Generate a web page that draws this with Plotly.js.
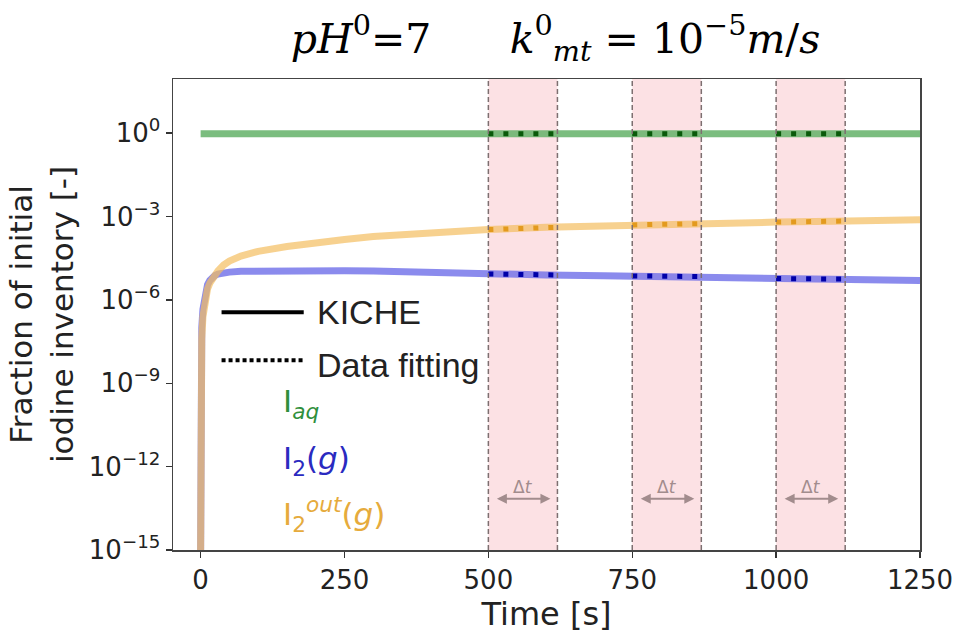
<!DOCTYPE html>
<html>
<head>
<meta charset="utf-8">
<script src="https://cdn.plot.ly/plotly-3.0.1.min.js"></script>
<style>html,body{margin:0;padding:0;background:#fff;}#chart{width:955px;height:636px;}</style>
</head>
<body>
<div id="chart"></div>
<script>
// KICHE simulation curves
const timeKiche = [0, 0.5, 1, 2, 4, 6, 8, 12, 16, 20, 25, 30, 40, 50, 70, 100, 150, 200, 250, 300, 400, 500, 600, 700, 800, 900, 1000, 1100, 1200, 1250];
const iaqKiche  = [0.95, 0.95, 0.95, 0.95, 0.95, 0.95, 0.95, 0.95, 0.95, 0.95, 0.95, 0.95, 0.95, 0.95, 0.95, 0.95, 0.95, 0.95, 0.95, 0.95, 0.95, 0.95, 0.95, 0.95, 0.95, 0.95, 0.95, 0.95, 0.95, 0.95];
const i2gKiche  = [1e-15, 3.2e-10, 1e-8, 1e-7, 4.5e-7, 1e-6, 1.8e-6, 3.5e-6, 5.0e-6, 6.3e-6, 7.6e-6, 8.5e-6, 9.5e-6, 1.0e-5, 1.07e-5, 1.1e-5, 1.12e-5, 1.12e-5, 1.12e-5, 1.1e-5, 9.5e-6, 8.5e-6, 7.9e-6, 7.4e-6, 6.9e-6, 6.5e-6, 5.9e-6, 5.6e-6, 5.2e-6, 5.0e-6];
const i2outKiche = [1e-15, 1e-10, 3.2e-9, 4.0e-8, 2.5e-7, 6.3e-7, 1.1e-6, 2.5e-6, 4.0e-6, 5.6e-6, 7.9e-6, 1.1e-5, 1.8e-5, 2.5e-5, 3.8e-5, 5.6e-5, 8.3e-5, 1.15e-4, 1.5e-4, 1.9e-4, 2.6e-4, 3.4e-4, 4.1e-4, 4.7e-4, 5.2e-4, 5.8e-4, 6.3e-4, 6.8e-4, 7.2e-4, 7.6e-4];

// Data-fitting windows (Δt)
const windowStart = [500, 750, 1000];
const windowEnd   = [620, 870, 1120];
const fitTime  = [500, 620, null, 750, 870, null, 1000, 1120];
const iaqFit   = [0.95, 0.95, null, 0.95, 0.95, null, 0.95, 0.95];
const i2gFit   = [8.6e-6, 7.9e-6, null, 7.3e-6, 6.9e-6, null, 5.9e-6, 5.6e-6];
const i2outFit = [3.4e-4, 4.1e-4, null, 5.0e-4, 5.6e-4, null, 6.3e-4, 6.9e-4];

// Axis ticks
const xTicks = [0, 250, 500, 750, 1000, 1250];
const yTicks = [1e-15, 1e-12, 1e-9, 1e-6, 1e-3, 1];
const yTickText = ['10<sup>−15</sup>', '10<sup>−12</sup>', '10<sup>−9</sup>', '10<sup>−6</sup>', '10<sup>−3</sup>', '10<sup>0</sup>'];

const speciesLabels = ['I<sub><i>aq</i></sub>', 'I<sub>2</sub>(<i>g</i>)', 'I<sub>2</sub><sup><i>out</i></sup>(<i>g</i>)'];
const speciesText = ['#2f8f3c', '#2a2ac0', '#e6ab3c'];

const SANS = 'DejaVu Sans, sans-serif';

const traces = [
  {x: timeKiche, y: i2gKiche, mode: 'lines', line: {color: 'rgb(110,110,232)', width: 7}, opacity: 0.8, showlegend: false, hoverinfo: 'skip'},
  {x: timeKiche, y: i2outKiche, mode: 'lines', line: {color: 'rgb(244,190,95)', width: 7}, opacity: 0.7, showlegend: false, hoverinfo: 'skip'},
  {x: timeKiche, y: iaqKiche, mode: 'lines', line: {color: 'rgb(100,178,105)', width: 7}, opacity: 0.85, showlegend: false, hoverinfo: 'skip'},
  {x: fitTime, y: iaqFit, mode: 'lines', line: {color: '#0a5a0a', width: 5, dash: '5px,10px'}, showlegend: false, hoverinfo: 'skip'},
  {x: fitTime, y: i2outFit, mode: 'lines', line: {color: '#e39a1e', width: 5, dash: '5px,10px'}, showlegend: false, hoverinfo: 'skip'},
  {x: fitTime, y: i2gFit, mode: 'lines', line: {color: '#0000a8', width: 5, dash: '5px,10px'}, showlegend: false, hoverinfo: 'skip'}
];

const shapes = [];
const annotations = [];
for (let i = 0; i < windowStart.length; i++) {
  shapes.push({type: 'rect', xref: 'x', yref: 'paper', x0: windowStart[i], x1: windowEnd[i], y0: 0, y1: 1,
    fillcolor: 'rgba(250,200,205,0.55)', line: {width: 0}, layer: 'below'});
  [windowStart[i], windowEnd[i]].forEach(function (xv) {
    shapes.push({type: 'line', xref: 'x', yref: 'paper', x0: xv, x1: xv, y0: 0, y1: 1,
      line: {color: '#7d6f70', width: 1.5, dash: '5px,3px'}, layer: 'above'});
  });
  annotations.push({xref: 'x', yref: 'y', axref: 'x', ayref: 'y', x: windowEnd[i], ax: windowStart[i],
    y: -13.16, ay: -13.16, text: '', showarrow: true, arrowside: 'end+start', arrowhead: 2, arrowsize: 1,
    arrowwidth: 2, arrowcolor: '#a28c8d', standoff: 7, startstandoff: 7});
  annotations.push({xref: 'x', yref: 'y', x: (windowStart[i] + windowEnd[i]) / 2, y: -12.74,
    text: 'Δ<i>t</i>', showarrow: false, font: {family: SANS, size: 17, color: '#a28c8d'}});
}

// legend keys
shapes.push({type: 'line', xref: 'paper', yref: 'paper', x0: 0.065, x1: 0.175, y0: 0.505, y1: 0.505, line: {color: '#000', width: 4}});
shapes.push({type: 'line', xref: 'paper', yref: 'paper', x0: 0.065, x1: 0.175, y0: 0.403, y1: 0.403, line: {color: '#000', width: 4, dash: '4px,3px'}});
annotations.push({xref: 'paper', yref: 'paper', x: 0.19, y: 0.505, xanchor: 'left', yanchor: 'middle', text: 'KICHE', showarrow: false, font: {family: 'Liberation Sans, Arial, sans-serif', size: 34, color: '#222'}});
annotations.push({xref: 'paper', yref: 'paper', x: 0.19, y: 0.393, xanchor: 'left', yanchor: 'middle', text: 'Data fitting', showarrow: false, font: {family: 'Liberation Sans, Arial, sans-serif', size: 34, color: '#222'}});
const labelY = [0.31, 0.19, 0.075];
for (let i = 0; i < speciesLabels.length; i++) {
  annotations.push({xref: 'paper', yref: 'paper', x: 0.145, y: labelY[i], xanchor: 'left', yanchor: 'middle', text: speciesLabels[i], showarrow: false, font: {family: SANS, size: 31, color: speciesText[i]}});
}

const layout = {
  width: 955, height: 636,
  margin: {l: 173, r: 35, t: 79, b: 86},
  paper_bgcolor: '#fff', plot_bgcolor: '#fff',
  showlegend: false,
  title: {text: '<i>pH</i><sup>0</sup>=7      <i>k</i><sup>0</sup><sub><i>mt</i></sub> = 10<sup>−5</sup><i>m</i>/<i>s</i>',
    font: {family: 'DejaVu Serif, serif', size: 41, color: '#000'},
    x: 0.512, xref: 'paper', xanchor: 'center', y: 0.94, yref: 'container', yanchor: 'middle'},
  xaxis: {range: [-48, 1250], tickmode: 'array', tickvals: xTicks, ticktext: xTicks.map(String),
    ticks: 'outside', ticklen: 6, tickwidth: 1.5, tickcolor: '#333', showline: true, linecolor: '#444', linewidth: 1.5, mirror: true,
    showgrid: false, zeroline: false, tickfont: {family: SANS, size: 26, color: '#222'},
    title: {text: 'Time [s]', font: {family: SANS, size: 32, color: '#222'}, standoff: 4}},
  yaxis: {type: 'log', range: [-15, 1.95], tickmode: 'array', tickvals: yTicks, ticktext: yTickText,
    ticks: 'outside', ticklen: 6, tickwidth: 1.5, tickcolor: '#333', showline: true, linecolor: '#444', linewidth: 1.5, mirror: true,
    showgrid: false, zeroline: false, tickfont: {family: SANS, size: 26, color: '#222'},
    title: {text: 'Fraction of initial<br>iodine inventory [-]', font: {family: SANS, size: 31, color: '#222'}, standoff: 6}},
  shapes: shapes,
  annotations: annotations
};

Plotly.newPlot('chart', traces, layout, {displayModeBar: false, staticPlot: true});
</script>
</body>
</html>
